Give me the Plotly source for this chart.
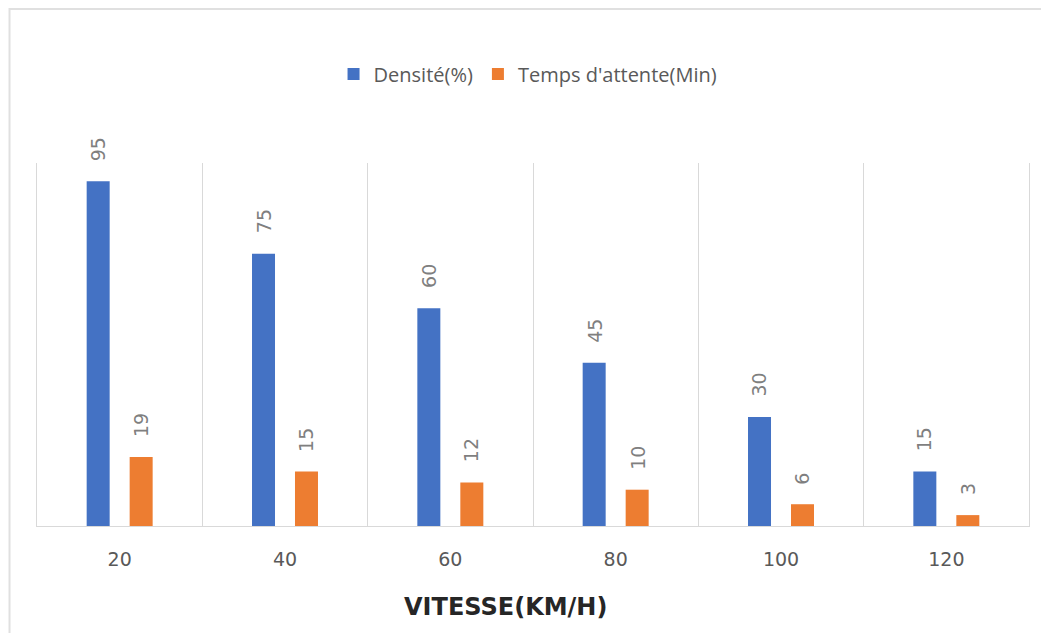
import plotly.graph_objects as go

categories = ["20", "40", "60", "80", "100", "120"]
densite = [95, 75, 60, 45, 30, 15]
attente = [19, 15, 12, 10, 6, 3]
series_names = ["Densité(%)", "Temps d'attente(Min)"]
x_title = "VITESSE(KM/H)"

BLUE = "#4472C4"
ORANGE = "#ED7D31"
LABEL = "#7F7F7F"
TICK = "#595959"

W, H = 1049, 633
ML, MR, MT, MB = 29, 28, 155, 115
BARGAP, BARGROUPGAP = 0.48, 0.465
LABEL_SIZE = 19
LABEL_GAP = 20

fig = go.Figure()
series = [(series_names[0], densite, BLUE), (series_names[1], attente, ORANGE)]
for name, vals, col in series:
    fig.add_trace(go.Bar(
        x=categories, y=vals, name=name,
        marker=dict(color=col, line=dict(width=0)),
        hoverinfo="x+y+name",
    ))

# data labels (rotated), placed above each bar with a gap
plot_w = W - ML - MR
cat_px = plot_w / len(categories)
slot_px = cat_px * (1 - BARGAP) / len(series)
annotations = []
for si, (name, vals, col) in enumerate(series):
    xs = (si - (len(series) - 1) / 2) * slot_px
    for ci, v in enumerate(vals):
        txt = str(v)
        tlen = len(txt) * 0.636 * LABEL_SIZE
        annotations.append(dict(
            x=ci, y=v, xref="x", yref="y", text=txt, showarrow=False,
            textangle=-90, xanchor="center", yanchor="middle",
            xshift=xs, yshift=LABEL_GAP + tlen / 2,
            font=dict(family="DejaVu Sans, sans-serif", size=LABEL_SIZE, color=LABEL),
        ))

annotations.append(dict(
    x=0.4718, y=-0.223, xref="paper", yref="paper", text="<b>" + x_title + "</b>",
    showarrow=False, xanchor="center", yanchor="middle",
    font=dict(family="DejaVu Sans, sans-serif", size=24, color="#262626"),
))

fig.update_layout(
    width=W, height=H,
    paper_bgcolor="white", plot_bgcolor="white",
    margin=dict(l=ML, r=MR, t=MT, b=MB, autoexpand=False),
    barmode="group", bargap=BARGAP, bargroupgap=BARGROUPGAP,
    showlegend=True,
    legend=dict(orientation="h", x=0.495, xanchor="center", y=1.245, yanchor="middle",
                font=dict(family="Open Sans, sans-serif", size=20, color=TICK),
                traceorder="normal"),
    xaxis=dict(
        type="category", tickson="boundaries", showgrid=True, gridcolor="#D9D9D9", gridwidth=1,
        showline=True, linecolor="#D9D9D9", linewidth=1, ticks="",
        ticklabelstandoff=16,
        tickfont=dict(family="DejaVu Sans, sans-serif", size=19, color=TICK),
        range=[-0.5, 5.5],
    ),
    yaxis=dict(range=[0, 100], showgrid=False, zeroline=False, showticklabels=False,
               ticks="", showline=True, mirror=True, linecolor="#D9D9D9", linewidth=1),
    annotations=annotations,
    shapes=[dict(type="rect", xref="paper", yref="paper",
                 x0=-0.0277, x1=1.2, y0=-0.6, y1=1.4242,
                 line=dict(color="#E0E0E0", width=2), fillcolor="rgba(0,0,0,0)", layer="below")],
)

fig.write_html("out.html")
